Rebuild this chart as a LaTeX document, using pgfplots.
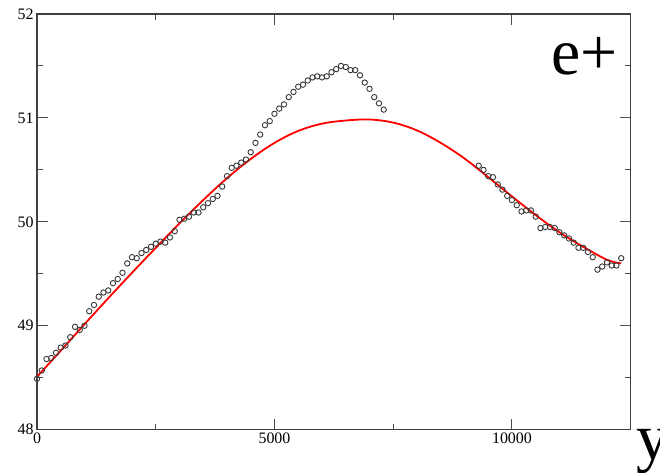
\documentclass[border=0pt]{standalone}
\usepackage{fontspec}
\setmainfont{Liberation Serif}
\usepackage{pgfplots}
\usepackage{pgfplotstable}
\pgfplotsset{compat=1.18}

\pgfplotstableread{
x y
0 48.49
100 48.57
200 48.68
300 48.69
400 48.74
500 48.79
600 48.81
700 48.89
800 48.99
900 48.96
1000 49.00
1100 49.14
1200 49.20
1300 49.28
1400 49.32
1500 49.34
1600 49.41
1700 49.45
1800 49.51
1900 49.60
2000 49.66
2100 49.65
2200 49.70
2300 49.73
2400 49.76
2500 49.79
2600 49.81
2700 49.80
2800 49.85
2900 49.91
3000 50.02
3100 50.03
3200 50.05
3300 50.09
3400 50.09
3500 50.14
3600 50.18
3700 50.22
3800 50.25
3900 50.34
4000 50.44
4100 50.52
4200 50.54
4300 50.57
4400 50.60
4500 50.67
4600 50.76
4700 50.84
4800 50.93
4900 50.97
5000 51.04
5100 51.09
5200 51.13
5300 51.20
5400 51.25
5500 51.30
5600 51.32
5700 51.36
5800 51.39
5900 51.40
6000 51.39
6100 51.40
6200 51.44
6300 51.47
6400 51.50
6500 51.49
6600 51.46
6700 51.46
6800 51.41
6900 51.34
7000 51.28
7100 51.20
7200 51.14
7300 51.08
}\dataA

\pgfplotstableread{
x y
9300 50.54
9400 50.50
9500 50.44
9600 50.43
9700 50.36
9800 50.31
9900 50.25
10000 50.21
10100 50.16
10200 50.10
10300 50.11
10400 50.11
10500 50.05
10600 49.94
10700 49.95
10800 49.95
10900 49.94
11000 49.90
11100 49.87
11200 49.84
11300 49.80
11400 49.75
11500 49.75
11600 49.71
11700 49.66
11800 49.54
11900 49.57
12000 49.61
12100 49.58
12200 49.58
12300 49.65
}\dataB

\pgfplotstableread{
x y
0 48.51
500 48.76
1000 49.015
1500 49.265
2000 49.51
2500 49.75
3000 49.985
3500 50.21
4000 50.42
4500 50.605
5000 50.76
5500 50.875
6000 50.945
6500 50.975
7000 50.985
7500 50.955
8000 50.88
8500 50.76
9000 50.61
9500 50.43
10000 50.245
10500 50.065
11000 49.90
11500 49.76
12000 49.635
12300 49.60
}\fitcurve

\begin{document}
\begin{tikzpicture}
\useasboundingbox (-37bp,-43.3bp) rectangle (623bp,429.7bp);
\begin{axis}[
  at={(0,0)}, anchor=south west,
  scale only axis,
  width=593.7bp, height=415.7bp,
  xmin=0, xmax=12500, ymin=48, ymax=52,
  xtick={0,5000,10000},
  minor xtick={2500,7500},
  ytick={48,49,50,51,52},
  minor ytick={48.5,49.5,50.5,51.5},
  tick align=inside,
  major tick length=11bp,
  minor tick length=6bp,
  axis line style={line width=1.3bp, black!75},
  every tick/.style={line width=1bp, black!70},
  every minor tick/.style={line width=1bp, black!70},
  scaled ticks=false,
  /pgf/number format/assume math mode=true,
  /pgf/number format/set thousands separator={},
  tick label style={font=\fontsize{16}{16}\selectfont, black},
  clip=false,
]
\addplot[red, line width=1.8bp, smooth, tension=0.55] table[x=x,y=y] {\fitcurve};
\addplot[only marks, mark=o, mark size=2.7bp, mark options={draw=black!78, line width=0.9bp}] table[x=x,y=y] {\dataA};
\addplot[only marks, mark=o, mark size=2.7bp, mark options={draw=black!78, line width=0.9bp}] table[x=x,y=y] {\dataB};
\end{axis}
\node[anchor=base west, inner sep=0pt, font=\fontsize{66}{66}\selectfont] at (514bp,354.7bp) {e+};
\node[anchor=base west, inner sep=0pt, font=\fontsize{66}{66}\selectfont] at (599bp,-29.3bp) {y};
\end{tikzpicture}
\end{document}
